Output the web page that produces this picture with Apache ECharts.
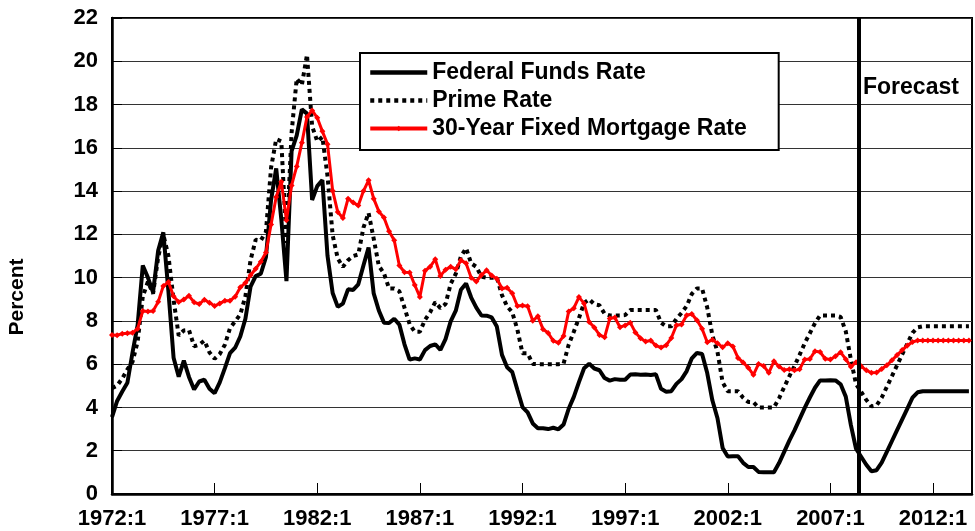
<!DOCTYPE html>
<html>
<head>
<meta charset="utf-8">
<script src="https://cdn.jsdelivr.net/npm/echarts@6/dist/echarts.min.js"></script>
<style>
html, body { margin: 0; padding: 0; background: #fff; }
#main { width: 975px; height: 531px; }
</style>
</head>
<body>
<div id="main"></div>
<script>
// quarterly, 1972:1 .. 2013:4 (index 0 = 1972:1), forecast after 2008:2
const tickLabels = ['1972:1', '1977:1', '1982:1', '1987:1', '1992:1', '1997:1', '2002:1', '2007:1', '2012:1'];
const seriesNames = ['Federal Funds Rate', 'Prime Rate', '30-Year Fixed Mortgage Rate'];
const forecastAt = 145.55; // between 2008:2 and 2008:3

const fedFunds = [
  3.55, 4.30, 4.74, 5.14,   6.54, 7.82, 10.56, 10.00,  9.32, 11.25, 12.09, 9.35,
  6.30, 5.42, 6.16, 5.41,   4.83, 5.20, 5.28, 4.87,    4.66, 5.16, 5.82, 6.51,
  6.76, 7.28, 8.10, 9.58,   10.07, 10.18, 10.95, 13.58, 15.05, 12.69, 9.84, 15.85,
  16.57, 17.78, 17.58, 13.59, 14.23, 14.51, 11.01, 9.29, 8.65, 8.80, 9.46, 9.43,
  9.69, 10.56, 11.39, 9.27, 8.48, 7.92, 7.90, 8.10,    7.83, 6.92, 6.21, 6.27,
  6.22, 6.65, 6.84, 6.92,   6.66, 7.16, 7.98, 8.47,    9.44, 9.73, 9.08, 8.61,
  8.25, 8.24, 8.16, 7.74,   6.43, 5.86, 5.64, 4.82,    4.02, 3.77, 3.26, 3.04,
  3.04, 3.00, 3.06, 2.99,   3.21, 3.94, 4.49, 5.17,    5.81, 6.02, 5.80, 5.72,
  5.36, 5.24, 5.31, 5.28,   5.28, 5.52, 5.53, 5.51,    5.52, 5.50, 5.53, 4.86,
  4.73, 4.75, 5.09, 5.31,   5.68, 6.27, 6.52, 6.47,    5.59, 4.33, 3.50, 2.13,
  1.73, 1.75, 1.74, 1.44,   1.25, 1.25, 1.02, 1.00,    1.00, 1.01, 1.43, 1.95,
  2.47, 2.94, 3.46, 3.98,   4.46, 4.91, 5.25, 5.25,    5.26, 5.25, 5.07, 4.50,
  3.18, 2.09, 1.72, 1.35,   1.05, 1.10, 1.45, 1.95,    2.45, 2.95, 3.45, 3.95,
  4.45, 4.70, 4.75, 4.75,   4.75, 4.75, 4.75, 4.75,    4.75, 4.75, 4.75, 4.75
];

const primeRate = [
  4.89, 5.01, 5.34, 5.76,   6.11, 7.04, 9.13, 9.81,    9.26, 10.94, 11.99, 11.00,
  8.98, 7.32, 7.56, 7.58,   6.83, 6.90, 7.09, 6.54,    6.25, 6.47, 6.90, 7.67,
  7.98, 8.30, 9.14, 10.81,  11.75, 11.72, 12.12, 15.08, 16.40, 16.30, 11.60, 16.70,
  19.20, 18.90, 20.30, 17.00, 16.30, 16.50, 14.70, 11.96, 10.88, 10.50, 10.80, 11.00,
  11.07, 12.31, 12.99, 11.80, 10.54, 10.20, 9.50, 9.50, 9.37, 8.61, 7.85, 7.50,
  7.50, 8.05, 8.40, 8.87,   8.59, 8.78, 9.71, 10.18,   10.98, 11.36, 10.66, 10.50,
  10.04, 10.00, 10.00, 10.00, 9.19, 8.67, 8.40, 7.60,  6.50, 6.50, 6.01, 6.00,
  6.00, 6.00, 6.00, 6.00,   6.02, 6.90, 7.50, 8.13,    8.83, 9.00, 8.77, 8.72,
  8.33, 8.25, 8.25, 8.25,   8.27, 8.50, 8.50, 8.50,    8.50, 8.50, 8.50, 7.92,
  7.75, 7.75, 8.10, 8.37,   8.69, 9.25, 9.50, 9.50,    8.62, 7.34, 6.57, 5.16,
  4.75, 4.75, 4.75, 4.45,   4.25, 4.24, 4.00, 4.00,    4.00, 4.00, 4.42, 4.94,
  5.44, 5.91, 6.43, 6.97,   7.43, 7.90, 8.25, 8.25,    8.25, 8.25, 8.18, 7.52,
  6.21, 5.08, 4.72, 4.35,   4.05, 4.10, 4.45, 4.95,    5.45, 5.95, 6.45, 6.95,
  7.45, 7.70, 7.75, 7.75,   7.75, 7.75, 7.75, 7.75,    7.75, 7.75, 7.75, 7.75
];

const mortgage30 = [
  7.35, 7.34, 7.41, 7.43,   7.45, 7.64, 8.46, 8.44,    8.46, 8.88, 9.61, 9.80,
  9.14, 8.87, 8.99, 9.16,   8.86, 8.78, 8.98, 8.84,    8.69, 8.81, 8.93, 8.93,
  9.12, 9.55, 9.76, 10.11,  10.41, 10.74, 11.16, 12.46, 13.73, 14.43, 12.65, 14.26,
  15.14, 16.23, 17.43, 17.73, 17.39, 16.76, 16.17, 14.02, 13.03, 12.76, 13.65, 13.47,
  13.33, 14.00, 14.50, 13.65, 13.06, 12.78, 12.14, 11.73, 10.56, 10.25, 10.24, 9.66,
  9.11, 10.32, 10.50, 10.85, 10.08, 10.37, 10.50, 10.39, 10.80, 10.67, 10.00, 9.82,
  10.12, 10.34, 10.10, 9.95, 9.50, 9.53, 9.28, 8.69,   8.71, 8.68, 8.01, 8.21,
  7.62, 7.44, 7.08, 6.99,   7.30, 8.44, 8.59, 9.10,    8.81, 7.95, 7.70, 7.35,
  7.24, 8.11, 8.16, 7.71,   7.79, 7.92, 7.47, 7.20,    7.05, 7.09, 6.86, 6.77,
  6.88, 7.21, 7.80, 7.83,   8.26, 8.32, 8.03, 7.64,    7.01, 7.13, 6.97, 6.78,
  6.97, 6.82, 6.29, 6.08,   5.84, 5.51, 6.01, 5.92,    5.60, 6.13, 5.89, 5.73,
  5.76, 5.72, 5.76, 6.22,   6.24, 6.60, 6.56, 6.25,    6.22, 6.37, 6.55, 6.23,
  5.88, 6.09, 5.90, 5.72,   5.60, 5.62, 5.78, 5.95,    6.18, 6.42, 6.65, 6.86,
  7.02, 7.10, 7.10, 7.10,   7.10, 7.10, 7.10, 7.10,    7.10, 7.10, 7.10, 7.10
];

const FONT = '"Liberation Sans", Arial, sans-serif';
const pairs = arr => arr.map((v, i) => [i, v]);

const chart = echarts.init(document.getElementById('main'));
chart.setOption({
  animation: false,
  backgroundColor: '#fff',
  grid: {
    left: 112, right: 3, top: 18, bottom: 37,
    show: true, borderColor: '#000', borderWidth: 2,
    containLabel: false, outerBoundsMode: 'none'
  },
  legend: {
    data: [
      { name: seriesNames[0], itemStyle: { opacity: 0 }, lineStyle: { width: 4.5 } },
      { name: seriesNames[1], itemStyle: { opacity: 0 }, lineStyle: { width: 4.5 } },
      { name: seriesNames[2], lineStyle: { width: 4 } }
    ],
    orient: 'vertical',
    left: 360, top: 53,
    backgroundColor: '#fff', borderColor: '#000', borderWidth: 2,
    padding: [8, 32, 10, 8],
    itemGap: 5, itemWidth: 57, itemHeight: 7,
    textStyle: { fontSize: 23, fontWeight: 'bold', color: '#000', fontFamily: FONT }
  },
  xAxis: {
    type: 'value', min: 0, max: 167.6, interval: 20,
    axisLine: { lineStyle: { color: '#000', width: 2.5 } },
    axisTick: { inside: true, length: 11, lineStyle: { color: '#000', width: 1 } },
    splitLine: { show: false },
    axisLabel: {
      showMaxLabel: false, margin: 14,
      fontSize: 22, fontWeight: 'bold', color: '#000', fontFamily: FONT,
      formatter: v => tickLabels[Math.round(v / 20)] || ''
    }
  },
  yAxis: {
    type: 'value', min: 0, max: 22, interval: 2,
    axisLine: { show: true, lineStyle: { color: '#000', width: 2.5 } },
    axisTick: { show: true, inside: true, length: 10, lineStyle: { color: '#000', width: 1 } },
    splitLine: { lineStyle: { color: '#333', width: 1.2 } },
    axisLabel: { margin: 14, fontSize: 22, fontWeight: 'bold', color: '#000', fontFamily: FONT }
  },
  graphic: [
    {
      type: 'text', x: 17, y: 297, rotation: Math.PI / 2,
      style: { text: 'Percent', font: 'bold 21px ' + FONT, fill: '#000', textAlign: 'center', textVerticalAlign: 'middle' }
    },
    {
      type: 'text', left: 863, top: 76,
      style: { text: 'Forecast', font: 'bold 23px ' + FONT, fill: '#000' }
    }
  ],
  series: [
    {
      name: seriesNames[0], type: 'line', data: pairs(fedFunds),
      symbol: 'none',
      lineStyle: { color: '#000', width: 4 },
      itemStyle: { color: '#000' },
      markLine: {
        silent: true, symbol: 'none', label: { show: false },
        lineStyle: { color: '#000', width: 4, type: 'solid' },
        data: [{ xAxis: forecastAt }]
      }
    },
    {
      name: seriesNames[1], type: 'line', data: pairs(primeRate),
      symbol: 'none',
      lineStyle: { color: '#000', width: 4, type: [4, 4], cap: 'butt' },
      itemStyle: { color: '#000' }
    },
    {
      name: seriesNames[2], type: 'line', data: pairs(mortgage30),
      symbol: 'diamond', symbolSize: 6,
      lineStyle: { color: '#ff0000', width: 3 },
      itemStyle: { color: '#ff0000' }
    }
  ]
});
</script>
</body>
</html>
